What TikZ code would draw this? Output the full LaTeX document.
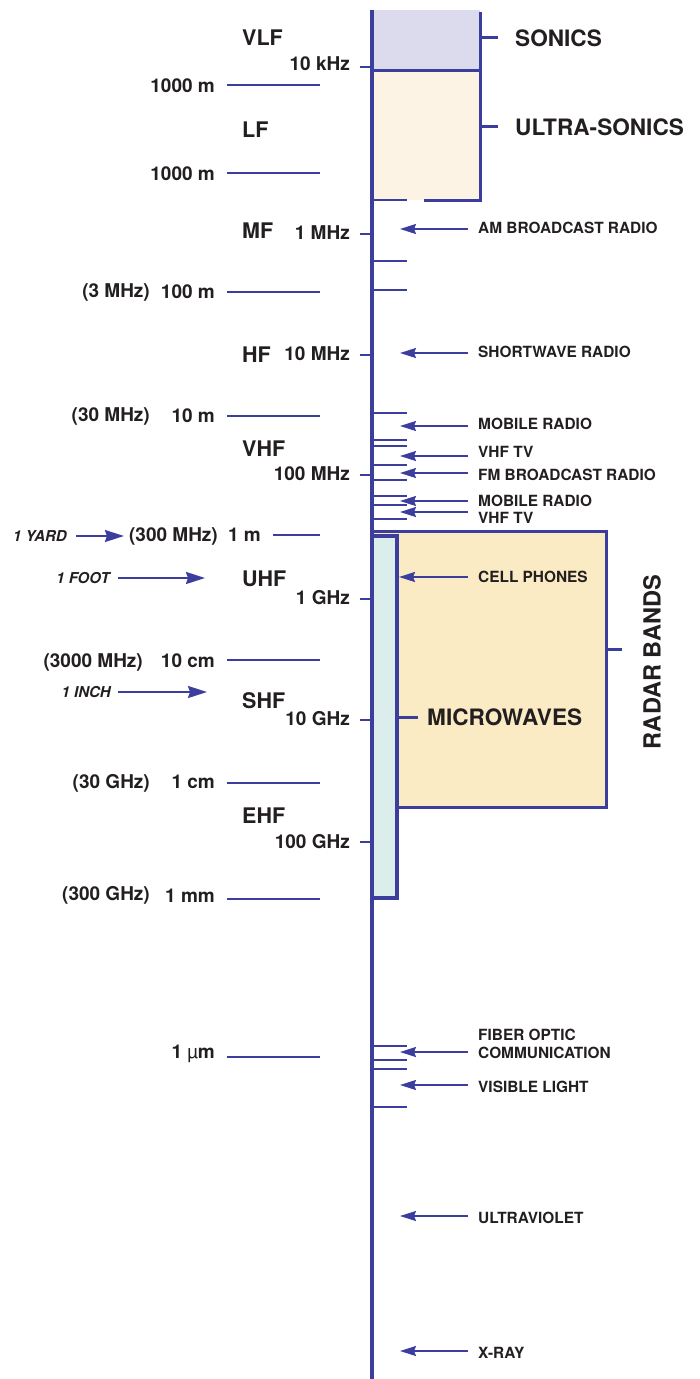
\documentclass[tikz,border=0pt]{standalone}
\usepackage{fontspec}
\setmainfont{TeX Gyre Heros}
\usepackage{tikz}
\usetikzlibrary{positioning,arrows.meta}
\usepackage{xcolor}
\definecolor{specblue}{RGB}{60,62,158}
\definecolor{ink}{RGB}{35,31,32}
\definecolor{sonicfill}{RGB}{219,219,237}
\definecolor{ultrafill}{RGB}{253,243,228}
\definecolor{radarfill}{RGB}{250,235,196}
\definecolor{microfill}{RGB}{220,238,235}

\begin{document}
\begin{tikzpicture}[x=1pt,y=-1pt,>={Stealth[length=16pt,width=10pt,inset=2pt]},
  band/.style={font=\fontsize{21.5}{21.5}\selectfont\bfseries,text=ink,anchor=west,inner sep=0pt},
  freq/.style={font=\fontsize{19}{19}\selectfont\bfseries,text=ink,anchor=east,inner sep=0pt},
  usage/.style={font=\fontsize{15.4}{18}\selectfont\bfseries,text=ink,anchor=west,inner sep=0pt,align=left},
  ruler/.style={font=\fontsize{15}{15}\selectfont\bfseries\itshape,text=ink,anchor=east,inner sep=0pt},
  big/.style={font=\fontsize{22.6}{22.6}\selectfont\bfseries,text=ink,inner sep=0pt},
  axisline/.style={draw=specblue,line width=3.5pt},
  heavy/.style={draw=specblue,line width=3pt},
  tick/.style={draw=specblue,line width=1.6pt},
  ptr/.style={->,draw=specblue,fill=specblue,line width=2pt,shorten <=10pt},
  measure/.style={-{Stealth[length=19pt,width=12pt,inset=2pt]},draw=specblue,fill=specblue,line width=2pt}]
\useasboundingbox (0,0) rectangle (700,1379);

% sonics and ultra-sonics
\fill[sonicfill] (372,10) rectangle (480,70);
\fill[ultrafill] (372,70) rectangle (480,200);
\draw[heavy] (372,70) -- (480,70);
\draw[heavy] (480,12) -- (480,201.5);
\draw[tick] (372,200) -- (407,200);
\draw[heavy] (424,200) -- (481.5,200);
\draw[heavy] (480,37) -- (498,37);
\draw[heavy] (480,126) -- (498,126);
\node[big,anchor=west] (sonics) at (515,38) {SONICS};
\node[big,anchor=west] (ultra) at (515,127) {ULTRA-SONICS};

% radar and microwave boxes
\filldraw[fill=radarfill,draw=specblue,line width=3pt] (372,531) rectangle (606,807);
\draw[heavy] (606,649) -- (622,649);
\node[big,rotate=90,font=\fontsize{23.6}{23.6}\selectfont\bfseries] (radar) at (652,662) {RADAR BANDS};
\filldraw[fill=microfill,draw=specblue,line width=3.5pt] (372,536) rectangle (397,898);
\draw[heavy] (397,717) -- (418,717);
\node[big,anchor=west] (micro) at (427,717) {MICROWAVES};

% main axis
\draw[axisline] (372,10) -- (372,1379);

% band names
\node[band] (vlf) at (242,38) {VLF};
\node[band] (lf) at (242,130) {LF};
\node[band] (mf) at (242,231) {MF};
\node[band] (hf) at (242,355) {HF};
\node[band] (vhf) at (242,449) {VHF};
\node[band] (uhf) at (242,579) {UHF};
\node[band] (shf) at (242,701) {SHF};
\node[band] (ehf) at (242,816) {EHF};

% frequencies
\node[freq] (khz10) at (350,64) {10 kHz};
\node[freq] (mhz1) at (350,233) {1 MHz};
\node[freq] (mhz10) at (350,354) {10 MHz};
\node[freq] (mhz100) at (350,474) {100 MHz};
\node[freq] (ghz1) at (350,598) {1 GHz};
\node[freq] (ghz10) at (350,719) {10 GHz};
\node[freq] (ghz100) at (350,842) {100 GHz};
\draw[tick] (360,67) -- (372,67);
\draw[tick] (360,234) -- (372,234);
\draw[tick] (360,355) -- (372,355);
\draw[tick] (360,475) -- (372,475);
\draw[tick] (360,599) -- (372,599);
\draw[tick] (360,720) -- (372,720);
\draw[tick] (360,842) -- (372,842);

% wavelengths
\node[freq] (wa) at (215,86) {1000 m};
\draw[tick] (227,85) -- (320,85);
\node[freq] (wb) at (215,174) {1000 m};
\draw[tick] (227,173) -- (320,173);
\node[freq] (wc) at (215,292) {100 m};
\node[freq] (wcf) at (150,292) {(3 MHz)};
\draw[tick] (227,292) -- (320,292);
\node[freq] (wd) at (215,416) {10 m};
\node[freq] (wdf) at (150,416) {(30 MHz)};
\draw[tick] (227,416) -- (320,416);
\node[freq] (we) at (261,535) {1 m};
\node[freq] (wef) at (218,536) {(300 MHz)};
\draw[tick] (273,535) -- (320,535);
\node[freq] (wf) at (215,661) {10 cm};
\node[freq] (wff) at (143,662) {(3000 MHz)};
\draw[tick] (227,660) -- (320,660);
\node[freq] (wg) at (215,782) {1 cm};
\node[freq] (wgf) at (150,783) {(30 GHz)};
\draw[tick] (227,783) -- (320,783);
\node[freq] (wh) at (215,896) {1 mm};
\node[freq] (whf) at (150,895) {(300 GHz)};
\draw[tick] (227,899) -- (320,899);
\node[freq] (wi) at (215,1054) {1 {\mdseries µ}m};
\draw[tick] (227,1057) -- (320,1057);

% rulers of length
\node[ruler] (yard) at (67,536) {1 YARD};
\draw[measure,shorten <=9pt,shorten >=5pt] (yard) -- (wef);
\node[ruler] (foot) at (110,578) {1 FOOT};
\coordinate (foottip) at (205,578);
\draw[measure,shorten <=8pt] (foot) -- (foottip);
\node[ruler] (inch) at (111,692) {1 INCH};
\coordinate (inchtip) at (207,692);
\draw[measure,shorten <=7pt] (inch) -- (inchtip);

% short marks right of the axis
\draw[tick] (372,261) -- (407,261) (372,290) -- (407,290)
  (372,413) -- (407,413) (372,440) -- (407,440) (372,446) -- (407,446)
  (372,465) -- (407,465) (372,480) -- (407,480) (372,496) -- (407,496)
  (372,505) -- (407,505) (372,519) -- (407,519);
\draw[tick] (372,1046) -- (407,1046) (372,1060) -- (407,1060)
  (372,1069) -- (407,1069) (372,1107) -- (407,1107);

% uses
\node[usage] (am) at (478,228) {AM BROADCAST RADIO};
\coordinate (amtip) at (400,229);
\draw[ptr] (am.west |- amtip) -- (amtip);
\node[usage] (sw) at (478,352) {SHORTWAVE RADIO};
\coordinate (swtip) at (400,353);
\draw[ptr] (sw.west |- swtip) -- (swtip);
\node[usage] (mob) at (478,424) {MOBILE RADIO};
\coordinate (mobtip) at (400,426);
\draw[ptr] (mob.west |- mobtip) -- (mobtip);
\node[usage] (tv) at (478,452) {VHF TV};
\coordinate (tvtip) at (400,456);
\draw[ptr] (tv.west |- tvtip) -- (tvtip);
\node[usage] (fm) at (478,475) {FM BROADCAST RADIO};
\coordinate (fmtip) at (400,473);
\draw[ptr] (fm.west |- fmtip) -- (fmtip);
\node[usage] (mobb) at (478,501) {MOBILE RADIO};
\coordinate (mobbtip) at (400,501);
\draw[ptr] (mobb.west |- mobbtip) -- (mobbtip);
\node[usage] (tvb) at (478,518) {VHF TV};
\coordinate (tvbtip) at (400,512);
\draw[ptr] (tvb.west |- tvbtip) -- (tvbtip);
\node[usage] (cell) at (478,577) {CELL PHONES};
\coordinate (celltip) at (399,577);
\draw[ptr] (cell.west |- celltip) -- (celltip);
\node[usage] (fiber) at (478,1044) {FIBER OPTIC\\COMMUNICATION};
\coordinate (fibertip) at (400,1052);
\draw[ptr] (fiber.west |- fibertip) -- (fibertip);
\node[usage] (vis) at (478,1087) {VISIBLE LIGHT};
\coordinate (vistip) at (400,1085);
\draw[ptr] (vis.west |- vistip) -- (vistip);
\node[usage] (uv) at (478,1218) {ULTRAVIOLET};
\coordinate (uvtip) at (400,1216);
\draw[ptr] (uv.west |- uvtip) -- (uvtip);
\node[usage] (xray) at (478,1353) {X-RAY};
\coordinate (xraytip) at (400,1351);
\draw[ptr] (xray.west |- xraytip) -- (xraytip);
\end{tikzpicture}
\end{document}
